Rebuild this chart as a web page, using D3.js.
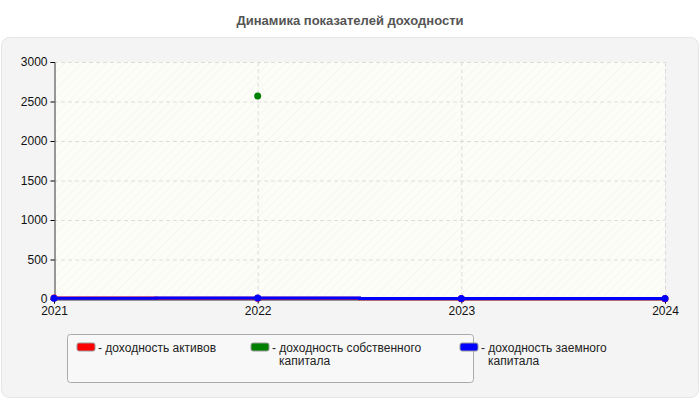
<!DOCTYPE html>
<html><head><meta charset="utf-8">
<script src="https://cdn.jsdelivr.net/npm/d3@7"></script>
<style>body{margin:0;background:#fff}svg{font-family:Arial,"Liberation Sans",sans-serif}</style>
</head><body><svg id="c" width="700" height="400"></svg>
<script>
const years = [2021, 2022, 2023, 2024]
const assetsReturn = [12, 8, 4, 3]
const equityReturn = [null, 2570, null, null]
const debtReturn = [8, 14, 6, 5]
const yTicks = [0, 500, 1000, 1500, 2000, 2500, 3000]
const seriesNames = ['- доходность активов', '- доходность собственного|капитала', '- доходность заемного|капитала']
const seriesColors = ['#ff0000', '#008000', '#0000ff']

const svg = d3.select('#c')
const defs = svg.append('defs')
const pat = defs.append('pattern').attr('id', 'hatch').attr('patternUnits', 'userSpaceOnUse')
  .attr('width', 6).attr('height', 6).attr('patternTransform', 'rotate(45)')
pat.append('rect').attr('width', 6).attr('height', 6).attr('fill', '#fdfdf8')
pat.append('line').attr('x1', 0).attr('y1', 0).attr('x2', 0).attr('y2', 6).attr('stroke', '#f0f0ec').attr('stroke-width', 1)

svg.append('text').attr('x', 350).attr('y', 25).attr('text-anchor', 'middle')
  .attr('font-size', 13).attr('font-weight', 'bold').attr('fill', '#555')
  .text('Динамика показателей доходности')

svg.append('rect').attr('x', 1.5).attr('y', 37.5).attr('width', 697).attr('height', 360).attr('rx', 8)
  .attr('fill', '#f4f4f4').attr('stroke', '#e6e6e6')

const x = d3.scaleLinear().domain([2021, 2024]).range([54, 665])
const y = d3.scaleLinear().domain([0, 3000]).range([299, 62])

svg.append('rect').attr('x', 54).attr('y', 62).attr('width', 611).attr('height', 237).attr('fill', 'url(#hatch)')

const grid = svg.append('g').attr('stroke', '#dcdcdc').attr('stroke-dasharray', '4,3')
grid.selectAll('.h').data(yTicks.slice(1)).enter().append('line')
  .attr('x1', 54).attr('x2', 665).attr('y1', d => y(d) + .5).attr('y2', d => y(d) + .5)
grid.selectAll('.v').data(years.slice(1)).enter().append('line')
  .attr('x1', d => x(d) + .5).attr('x2', d => x(d) + .5).attr('y1', 62).attr('y2', 299)

const yAxis = svg.append('g').attr('transform', 'translate(54.5,0)')
  .call(d3.axisLeft(y).tickValues(yTicks).tickSize(4).tickFormat(d3.format('d')))
yAxis.selectAll('text').attr('font-size', 12).attr('fill', '#111').attr('font-family', 'Arial,"Liberation Sans",sans-serif')
yAxis.select('.domain').attr('stroke', '#333')

const xAxis = svg.append('g').attr('transform', 'translate(0,299.5)')
  .call(d3.axisBottom(x).tickValues(years).tickSize(4).tickFormat(d3.format('d')))
xAxis.selectAll('text').attr('font-size', 12).attr('fill', '#111').attr('font-family', 'Arial,"Liberation Sans",sans-serif')
xAxis.select('.domain').attr('stroke', '#333')

const all = [assetsReturn, equityReturn, debtReturn]
all.forEach((vals, i) => {
  const pts = years.map((yr, j) => ({yr, v: vals[j]})).filter(p => p.v != null)
  if (pts.length > 1) {
    svg.append('path').datum(pts).attr('fill', 'none').attr('stroke', seriesColors[i]).attr('stroke-width', 3)
      .attr('d', d3.line().x(p => x(p.yr)).y(p => y(p.v)).curve(d3.curveStep))
  }
  svg.selectAll('.pt' + i).data(pts).enter().append('circle')
    .attr('cx', p => x(p.yr)).attr('cy', p => y(p.v)).attr('r', 3.5).attr('fill', seriesColors[i])
})

const leg = svg.append('g')
leg.append('rect').attr('x', 67.5).attr('y', 334.5).attr('width', 406).attr('height', 48).attr('rx', 3)
  .attr('fill', '#f8f8f8').attr('stroke', '#aaa')
const legX = d3.scalePoint().domain(d3.range(3)).range([77, 460]).padding(0)
const legPos = [77, 251, 460]
seriesNames.forEach((n, i) => {
  const g = leg.append('g').attr('transform', `translate(${legPos[i]},343)`)
  g.append('rect').attr('width', 18).attr('height', 8).attr('rx', 2).attr('fill', seriesColors[i]).attr('stroke', '#999')
  const t = g.append('text').attr('x', 21).attr('y', 9).attr('font-size', 12).attr('fill', '#222')
  n.split('|').forEach((s, k) => t.append('tspan').attr('x', k ? 28 : 21).attr('dy', k ? 13 : 0).text(s))
})
</script></body></html>
